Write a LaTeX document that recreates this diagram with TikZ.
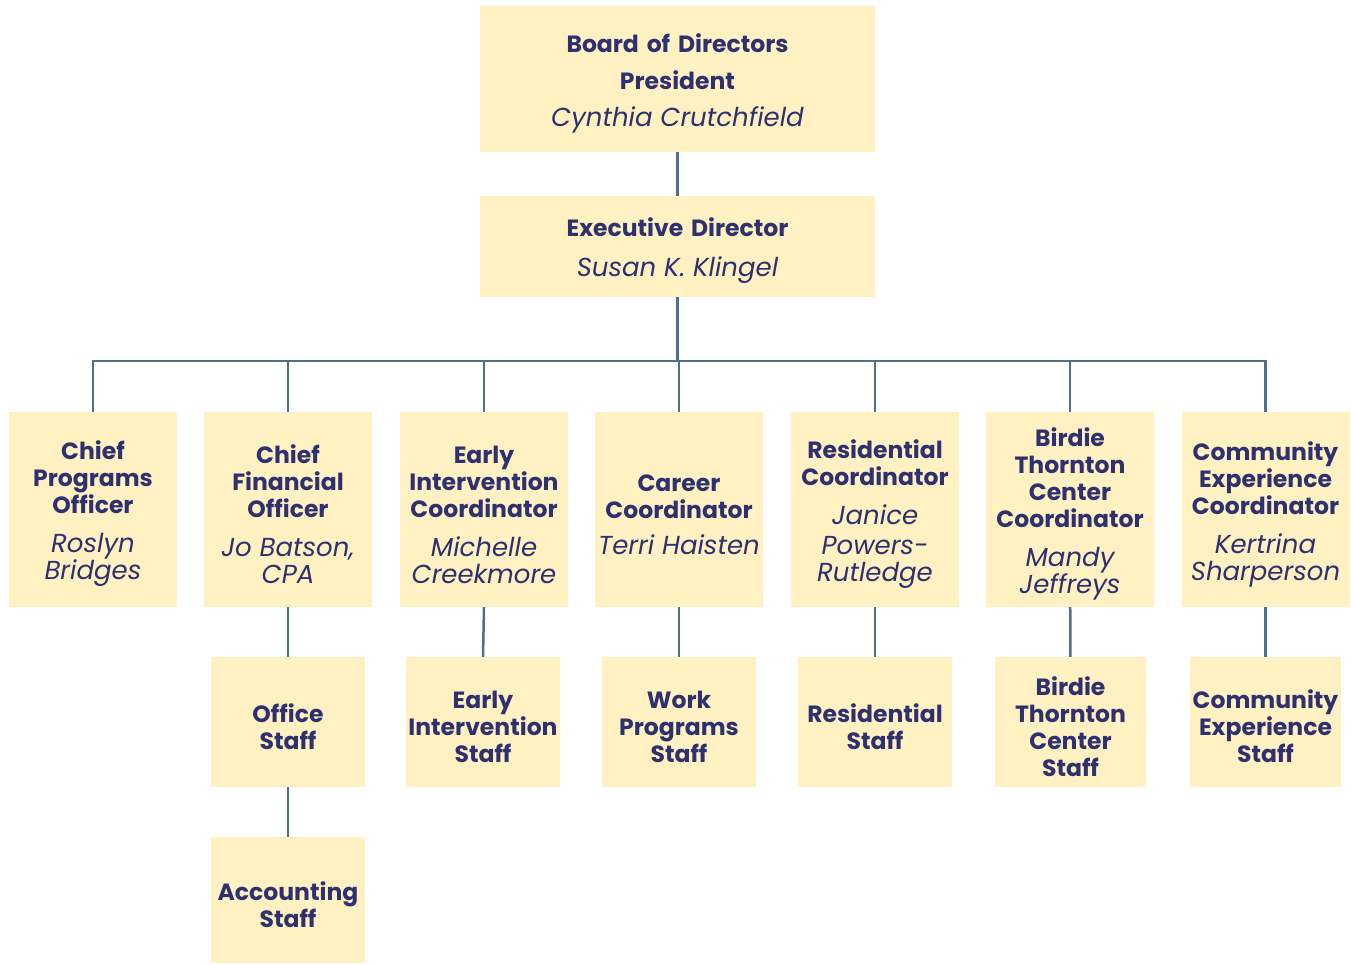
\documentclass[tikz,border=0pt]{standalone}
\usepackage{fontspec}
\setmainfont{Poppins}[BoldFont={Poppins Bold}]
\usepackage{tikz}
\usetikzlibrary{positioning}

\definecolor{cardfill}{HTML}{FFF1C1}
\definecolor{ink}{HTML}{2E3070}
\definecolor{wire}{HTML}{4F7088}

\newcommand\rolefont{\fontsize{23.5}{27}\selectfont\bfseries}
\newcommand\namefont{\fontsize{26}{30}\selectfont\mdseries\itshape}
\newcommand\cardpad{\rule{0pt}{28pt}}

\begin{document}
\begin{tikzpicture}[x=1pt, y=-1pt,
    card/.style = {shape=rectangle, fill=cardfill, text=ink,
      align=center, inner ysep=4pt, inner xsep=0pt, font=\rolefont,
      execute at begin node=\cardpad},
    wire/.style = {draw=wire, line width=2.5pt}]
    \tikzstyle{head}=[card, minimum width=395pt, text width=387pt]
    \tikzstyle{lead}=[card, minimum width=168pt, minimum height=195pt, text width=168pt]
    \tikzstyle{crew}=[card, minimum width=154pt, minimum height=130pt, text width=154pt]
  \useasboundingbox (0,0) rectangle (1351,964);

  % top of the chart
  \node[head, minimum height=146pt] (board) at (677.5,79)
    {Board of Directors\\[10pt] President\\[10pt] \namefont Cynthia Crutchfield};
  \node[head, minimum height=101pt] (exec) at (677.5,246.5)
    {Executive Director\\[13pt] \namefont Susan K. Klingel};

  % leaders
  \node[lead] (cpo) at (93,509.5)
    {Chief\\ Programs\\ Officer\\[9pt] \namefont Roslyn\\ Bridges};
  \node[lead] (cfo) at (288,509.5)
    {Chief\\ Financial\\ Officer\\[9pt] \namefont Jo Batson,\\ CPA};
  \node[lead] (eic) at (484,509.5)
    {Early\\ Intervention\\ Coordinator\\[9pt] \namefont Michelle\\ Creekmore};
  \node[lead] (career) at (679,509.5)
    {Career\\ Coordinator\\[9pt] \namefont Terri Haisten};
  \node[lead] (resid) at (875,509.5)
    {Residential\\ Coordinator\\[9pt] \namefont Janice\\ Powers-\\ Rutledge};
  \node[lead] (birdie) at (1070,509.5)
    {Birdie\\ Thornton\\ Center\\ Coordinator\\[9pt] \namefont Mandy\\ Jeffreys};
  \node[lead] (commx) at (1265.5,509.5)
    {Community\\ Experience\\ Coordinator\\[9pt] \namefont Kertrina\\ Sharperson};

  % staff
  \node[crew] (office) at (288,722) {Office\\ Staff};
  \node[crew] (eistaff) at (483,722) {Early\\ Intervention\\ Staff};
  \node[crew] (work) at (679,722) {Work\\ Programs\\ Staff};
  \node[crew] (resstaff) at (875,722) {Residential\\ Staff};
  \node[crew, minimum width=151pt, text width=151pt] (birstaff) at (1070.5,722)
    {Birdie\\ Thornton\\ Center\\ Staff};
  \node[crew, minimum width=151pt, text width=151pt] (comstaff) at (1265.5,722)
    {Community\\ Experience\\ Staff};
  \node[crew, minimum height=126pt] (acct) at (288,900) {Accounting\\ Staff};

  % lines
  \coordinate (bus) at (exec.south |- 0,361);
  \draw[wire] (board) -- (exec);
  \draw[wire] (exec) -- (bus);
  \foreach \n in {cpo,cfo,eic,career,resid,birdie,commx}
    \draw[wire] (bus) -| (\n.north);
  \draw[wire] (cfo) -- (office);
  \draw[wire] (office) -- (acct);
  \draw[wire] (eic.south) -- (eistaff.north);
  \draw[wire] (career) -- (work);
  \draw[wire] (resid) -- (resstaff);
  \draw[wire] (birdie) -- (birstaff);
  \draw[wire] (commx) -- (comstaff);
\end{tikzpicture}
\end{document}
